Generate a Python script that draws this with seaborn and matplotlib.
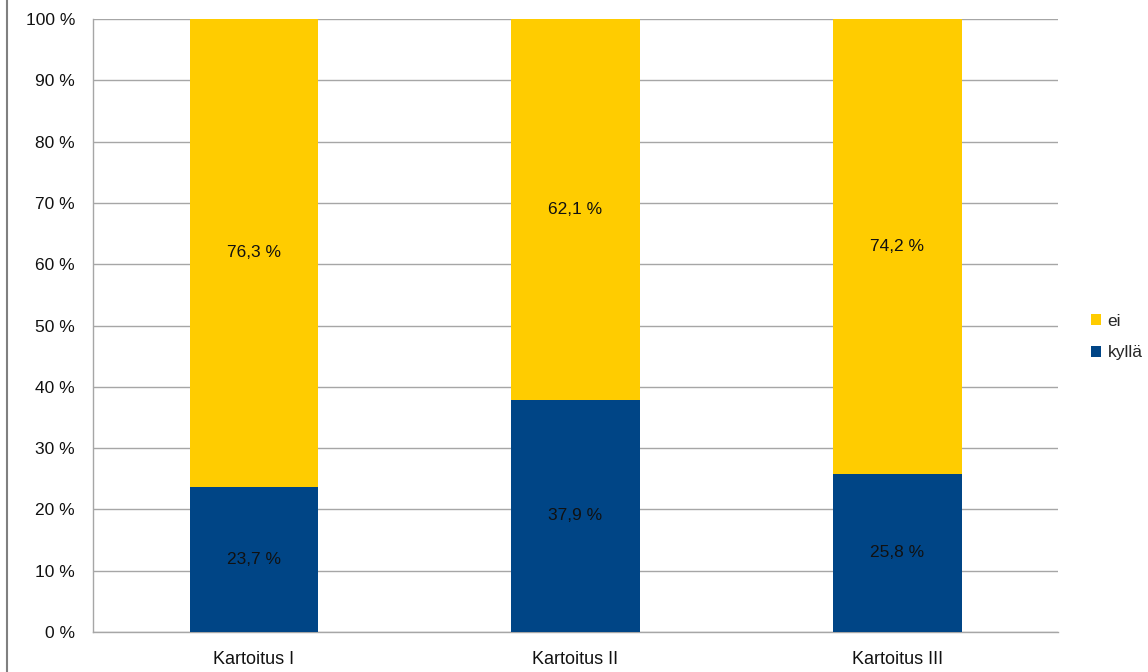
import matplotlib
matplotlib.use("Agg")
import matplotlib.pyplot as plt
from matplotlib.patches import Patch
from matplotlib.lines import Line2D
import seaborn as sns
import pandas as pd

categories = ["Kartoitus I", "Kartoitus II", "Kartoitus III"]
kylla = [23.7, 37.9, 25.8]
ei = [76.3, 62.1, 74.2]
series_names = ["kyllä", "ei"]
y_ticks = list(range(0, 101, 10))

YELLOW = "#FFCC00"
BLUE = "#004586"
GRID = "#A6A6A6"
TEXT = "#111111"
FS = 12.5

sns.set_theme(style="white")
plt.rcParams["font.family"] = ["Liberation Sans", "DejaVu Sans"]

df = pd.DataFrame({"cat": categories, "kylla": kylla, "ei": ei})
df["total"] = df["kylla"] + df["ei"]

fig = plt.figure(figsize=(11.48, 6.72), dpi=100)
ax = fig.add_axes([93 / 1148, 1 - 632 / 672, (1058 - 93) / 1148, (632 - 19) / 672])

sns.barplot(data=df, x="cat", y="total", color=YELLOW, width=0.4, saturation=1,
            ax=ax, zorder=3, edgecolor="none")
sns.barplot(data=df, x="cat", y="kylla", color=BLUE, width=0.4, saturation=1,
            ax=ax, zorder=3, edgecolor="none")

# value labels centred in each segment
for i, (k, e) in enumerate(zip(kylla, ei)):
    ax.text(i, k / 2, f"{k:.1f} %".replace(".", ","), ha="center", va="center",
            fontsize=FS, color=TEXT, zorder=4)
    ax.text(i, k + e / 2, f"{e:.1f} %".replace(".", ","), ha="center", va="center",
            fontsize=FS, color=TEXT, zorder=4)

ax.set_xlim(-0.5, len(categories) - 0.5)
ax.set_ylim(0, 100)
ax.set_yticks(y_ticks)
ax.set_yticklabels([f"{t} %" for t in y_ticks], fontsize=FS, color=TEXT)
ax.set_xticks(range(len(categories)))
ax.set_xticklabels(categories, fontsize=13, color=TEXT)
ax.set_xlabel("")
ax.set_ylabel("")

# category boundary ticks on the x axis
ax.set_xticks([i - 0.5 for i in range(len(categories) + 1)], minor=True)
ax.tick_params(axis="x", which="major", length=0, pad=14)
ax.tick_params(axis="x", which="minor", length=6, width=1, color=GRID, direction="out")
ax.tick_params(axis="y", which="major", length=6, width=1, color=GRID, direction="out", pad=7)

ax.yaxis.grid(True, color=GRID, linewidth=1, zorder=0)
ax.set_axisbelow(True)
for side in ["top", "right"]:
    ax.spines[side].set_visible(False)
for side in ["left", "bottom"]:
    ax.spines[side].set_color(GRID)
    ax.spines[side].set_linewidth(1)

handles = [Patch(facecolor=YELLOW, edgecolor="none"), Patch(facecolor=BLUE, edgecolor="none")]
ax.legend(handles, ["ei", "kyllä"], loc="center left", bbox_to_anchor=(1.027, 0.481),
          frameon=False, fontsize=FS, handlelength=0.6, handleheight=0.6,
          handletextpad=0.35, labelspacing=0.95, borderaxespad=0)

# frame line along the left edge of the figure
fig.add_artist(Line2D([7 / 1148, 7 / 1148], [0, 1], color="#808080", linewidth=1.5,
                      transform=fig.transFigure))

fig.savefig("out.png", dpi=100)
